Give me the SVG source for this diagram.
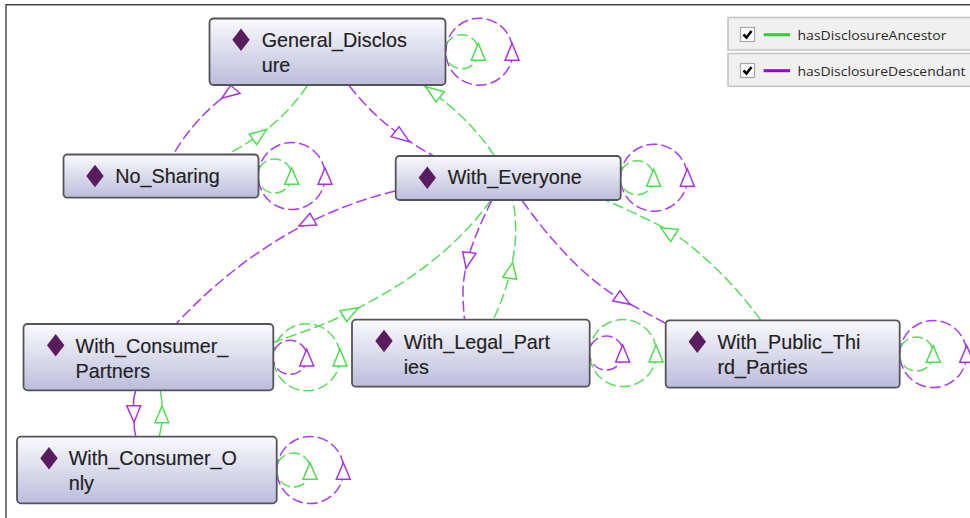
<svg xmlns="http://www.w3.org/2000/svg" width="970" height="518" viewBox="0 0 970 518">
<defs>
<linearGradient id="nf" x1="0" y1="0" x2="0" y2="1"><stop offset="0" stop-color="#fafafd"/><stop offset="1" stop-color="#bcbcdc"/></linearGradient>
<style>
.g{fill:none;stroke:#5cdc5c;stroke-width:1.5;stroke-dasharray:11 4}
.p{fill:none;stroke:#a93ce8;stroke-width:1.5;stroke-dasharray:11 4}
.ga{fill:#fff;stroke:#50dc50;stroke-width:1.5;stroke-linejoin:miter}
.pa{fill:#fff;stroke:#a735e6;stroke-width:1.5;stroke-linejoin:miter}
.n{fill:url(#nf);stroke:#545458;stroke-width:1.8}
.d{fill:#591c5e}
.t{font-family:"Liberation Sans",Arial,sans-serif;font-size:19.8px;fill:#222;stroke:#222;stroke-width:.15}
.l{font-family:"Open Sans","Noto Sans",sans-serif;font-size:13px;fill:#2a2a2a}
.b{fill:#f0f0f0;stroke:#c6c6c6;stroke-width:1.6}
.c{fill:#fff;stroke:#a8a8a8;stroke-width:1.2}
.m{fill:none;stroke:#000;stroke-width:2.6}
</style>
</defs>
<path d="M6 518V4.7H970" fill="none" stroke="#444" stroke-width="1.4"/>
<g id="connectors">
<path class="p" d="M175 151.7Q197 115 233 90"/>
<polygon class="pa" points="221.7,98.3 240,93.3 230.7,85.3"/>
<path class="g" d="M307.3 85.7Q285 118 256 137Q243 146 228.3 154"/>
<polygon class="ga" points="249.3,134.3 266.7,129.3 256.7,144.7"/>
<path class="p" d="M349.3 85.7Q372 115 398 133Q415 146 433.3 155.7"/>
<polygon class="pa" points="391,136.7 399,126.7 409.3,141.7"/>
<path class="g" d="M494.3 155.7Q470 118 424 86"/>
<polygon class="ga" points="425.7,86.7 444.3,91.7 436,102"/>
<path class="p" d="M395.5 191Q274 220 176.7 323"/>
<polygon class="pa" points="299,226 316.7,225 310,213.3"/>
<path class="g" d="M491 200C455 250 405 285 350 312C325 325 300 333 274 342"/>
<polygon class="ga" points="340,310.7 358.3,307.7 346.7,321.7"/>
<path class="p" d="M491.7 200.7C478 228 464 260 463 290Q463 305 464.5 319"/>
<polygon class="pa" points="462.7,251.7 476,253.3 466,268.3"/>
<path class="g" d="M494 318C505 295 512 270 515 245Q517 222 513 200.7"/>
<polygon class="ga" points="502.7,277.3 516.7,279.3 512.7,262.3"/>
<path class="p" d="M522.3 200.7C550 240 590 285 630 304Q648 314 665 323"/>
<polygon class="pa" points="612.7,301 620,290.7 630,304.3"/>
<path class="g" d="M760.7 320C735 285 705 255 672 232Q640 215 605 200"/>
<polygon class="ga" points="660.7,227.7 678.3,229.3 670.7,241.7"/>
<path class="p" style="stroke-dasharray:none" d="M135.7 391Q133 398 133.5 406M134 422Q134 430 135.7 436"/>
<polygon class="pa" points="126.7,405.7 140.7,405.7 134,422.3"/>
<path class="g" style="stroke-dasharray:none" d="M160.3 391Q162 400 162 406M162 422Q161 430 159.3 436"/>
<polygon class="ga" points="155,422.7 168.7,422.7 162,406"/>

<circle class="p" cx="479.3" cy="51.7" r="33.5"/><circle class="g" cx="461.7" cy="51.7" r="17"/>
<polygon class="ga" points="478.3,43.3 471.3,60.3 485.3,60.3"/><polygon class="pa" points="512,43.3 505,60.3 519,60.3"/>
<circle class="p" cx="291.7" cy="176" r="33.5"/><circle class="g" cx="274.7" cy="176" r="17"/>
<polygon class="ga" points="291.7,168 284.7,184.3 298.7,184.3"/><polygon class="pa" points="325,168 318,184.3 332,184.3"/>
<circle class="p" cx="654" cy="177.7" r="33.5"/><circle class="g" cx="637" cy="177.7" r="17"/>
<polygon class="ga" points="653.7,169 646.7,186.3 660.7,186.3"/><polygon class="pa" points="687.3,169 680.3,186.3 694.3,186.3"/>
<circle class="g" cx="306.7" cy="357.3" r="33.5"/><circle class="p" cx="290" cy="357.3" r="17"/>
<polygon class="pa" points="306.7,349.3 299.7,366 313.7,366"/><polygon class="ga" points="340,349.3 333,366 347,366"/>
<circle class="g" cx="623" cy="353" r="33.5"/><circle class="p" cx="606.3" cy="353" r="17"/>
<polygon class="pa" points="622.7,345 615.7,362 629.7,362"/><polygon class="ga" points="656,345 649,362 663,362"/>
<circle class="p" cx="933.3" cy="354" r="33.5"/><circle class="g" cx="916.5" cy="354" r="17"/>
<polygon class="ga" points="933.3,345.7 926.3,362.3 940.3,362.3"/><polygon class="pa" points="966.7,345.7 959.7,362.3 973.7,362.3"/>
<circle class="p" cx="310.3" cy="470" r="33.5"/><circle class="g" cx="293.5" cy="470" r="17"/>
<polygon class="ga" points="310,462.7 303,479.3 317,479.3"/><polygon class="pa" points="343.3,462.7 336.3,479.3 350.3,479.3"/>
</g>
<g id="general-disclosure"><rect class="n" x="209.5" y="18.5" width="236" height="66.5" rx="4"/><polygon class="d" points="241,28.4 249.7,39.7 241,51 232.3,39.7"/><text class="t" x="261.7" y="46.6">General_Disclos</text><text class="t" x="261.7" y="71.6">ure</text></g>
<g id="no-sharing"><rect class="n" x="63.5" y="154.5" width="195" height="43.2" rx="4"/><polygon class="d" points="95,164.7 103.7,176 95,187.3 86.3,176"/><text class="t" x="115.2" y="183">No_Sharing</text></g>
<g id="with-everyone"><rect class="n" x="395.7" y="156" width="225" height="44" rx="4"/><polygon class="d" points="427.3,166.4 436,177.7 427.3,189 418.6,177.7"/><text class="t" x="447.7" y="184.3">With_Everyone</text></g>
<g id="with-consumer-partners"><rect class="n" x="23.5" y="324" width="249.8" height="66.3" rx="4"/><polygon class="d" points="55.7,334 64.4,345.3 55.7,356.6 47,345.3"/><text class="t" x="75.5" y="352.6">With_Consumer_</text><text class="t" x="75.5" y="377.7">Partners</text></g>
<g id="with-legal-parties"><rect class="n" x="352" y="319.7" width="237.7" height="67" rx="4"/><polygon class="d" points="384,329.7 392.7,341 384,352.3 375.3,341"/><text class="t" x="403.7" y="349.3">With_Legal_Part</text><text class="t" x="403.7" y="374">ies</text></g>
<g id="with-public-third-parties"><rect class="n" x="665.7" y="320.3" width="234" height="67.4" rx="4"/><polygon class="d" points="697.3,330.4 706,341.7 697.3,353 688.6,341.7"/><text class="t" x="717.4" y="349.3">With_Public_Thi</text><text class="t" x="717.4" y="374">rd_Parties</text></g>
<g id="with-consumer-only"><rect class="n" x="17" y="436.7" width="259.7" height="66.6" rx="4"/><polygon class="d" points="49,447 57.7,458.3 49,469.6 40.3,458.3"/><text class="t" x="68.7" y="465">With_Consumer_O</text><text class="t" x="68.7" y="490">nly</text></g>
<g id="legend">
<rect class="b" x="728" y="17.5" width="250" height="32.5"/>
<rect class="b" x="728" y="53.5" width="250" height="32.8"/>
<rect class="c" x="740.5" y="27.5" width="14" height="14"/>
<rect class="c" x="740.5" y="63.5" width="14" height="14"/>
<path class="m" d="M743.5 34.5L746.5 37.5L751.5 31"/>
<path class="m" d="M743.5 70.5L746.5 73.5L751.5 67"/>
<path d="M763.7 34.7H790" stroke="#33cc33" stroke-width="3"/>
<path d="M763.7 70.7H790" stroke="#9400d3" stroke-width="3"/>
<text class="l" x="797.5" y="40" textLength="149" lengthAdjust="spacingAndGlyphs">hasDisclosureAncestor</text>
<text class="l" x="797.5" y="76" textLength="168" lengthAdjust="spacingAndGlyphs">hasDisclosureDescendant</text>
</g>
</svg>
